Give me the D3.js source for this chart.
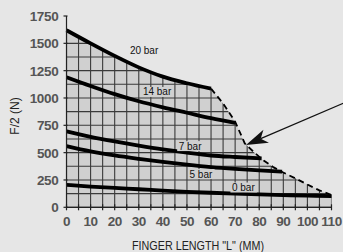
<!DOCTYPE html>
<html><head><meta charset="utf-8">
<script src="https://cdn.jsdelivr.net/npm/d3@7"></script>
<style>html,body{margin:0;padding:0;background:#e6e6e6;}svg{display:block;}</style>
</head><body>
<script>
// ---- data ----
const xTicks = [0,10,20,30,40,50,60,70,80,90,100,110];
const yTicks = [0,250,500,750,1000,1250,1500,1750];
const bar20X = [0,10,20,30,40,50,60];
const bar20Y = [1620,1500,1385,1280,1195,1135,1085];
const bar14X = [0,10,20,30,40,50,60,70];
const bar14Y = [1190,1110,1035,970,915,865,815,772];
const bar7X  = [0,10,20,30,40,50,60,70,81];
const bar7Y  = [695,645,603,565,530,500,474,460,448];
const bar5X  = [0,10,20,30,40,50,60,70,80,89.5];
const bar5Y  = [560,512,474,443,415,390,368,351,337,326];
const bar0X  = [0,10,20,30,40,50,60,70,80,90,100,110];
const bar0Y  = [205,190,177,165,153,142,133,125,118,112,107,103];
const limitX = [60,65,70,74,78,82,86,90,95,100,105,110];
const limitY = [1085,950,783,585,500,425,365,318,265,208,155,112];
const seriesNames = ["20 bar","14 bar","7 bar","5 bar","0 bar"];

// ---- layout ----
const W = 343, H = 252;
const m = {left:66.5, top:16, right:11.5, bottom:44.7};
const x = d3.scaleLinear().domain([0,110]).range([m.left, W-m.right]);
const y = d3.scaleLinear().domain([0,1750]).range([H-m.bottom, m.top]);

const svg = d3.select("body").append("svg").attr("width",W).attr("height",H);
svg.append("rect").attr("width",W).attr("height",H).attr("fill","#e6e6e6");

const zip = (xs,ys)=>xs.map((v,i)=>[v,ys[i]]);
const line = d3.line().x(d=>x(d[0])).y(d=>y(d[1])).curve(d3.curveMonotoneX);
const lineLin = d3.line().x(d=>x(d[0])).y(d=>y(d[1]));

// shaded region
const region = zip(bar20X,bar20Y).concat(zip(limitX,limitY).slice(1)).concat([[110,0],[0,0]]);
const regionPath = d3.line().x(d=>x(d[0])).y(d=>y(d[1]))(region) + "Z";
svg.append("clipPath").attr("id","clip").append("path").attr("d",regionPath);
svg.append("path").attr("d",regionPath).attr("fill","#d0d0d0");

// grid
const g = svg.append("g").attr("clip-path","url(#clip)").attr("stroke","#3a3a3a").attr("stroke-width",1.1);
g.selectAll("line.v").data(d3.range(0,111,5)).join("line")
  .attr("x1",d=>x(d)).attr("x2",d=>x(d)).attr("y1",y(0)).attr("y2",y(1750));
g.selectAll("line.h").data(d3.range(0,1751,125)).join("line")
  .attr("y1",d=>y(d)).attr("y2",d=>y(d)).attr("x1",x(0)).attr("x2",x(110));

// limit dashed curve
svg.append("path").attr("d",lineLin(zip(limitX,limitY))).attr("fill","none")
  .attr("stroke","#000").attr("stroke-width",1.8).attr("stroke-dasharray","6,4");

// curves
const series = [zip(bar20X,bar20Y),zip(bar14X,bar14Y),zip(bar7X,bar7Y),zip(bar5X,bar5Y),zip(bar0X,bar0Y)];
series.forEach(s=>{
  svg.append("path").attr("d",line(s)).attr("fill","none").attr("stroke","#000").attr("stroke-width",3.8);
});

// series labels
const labelPos = [[32.2,1430,false],[37.6,1055,true],[51.3,560,true],[55.8,304,true],[73.4,181,true]];
seriesNames.forEach((name,i)=>{
  const [lx,ly,box] = labelPos[i];
  const t = svg.append("text").attr("x",x(lx)).attr("y",y(ly)).attr("dy","0.35em")
    .attr("text-anchor","middle").attr("font-family","Liberation Sans, Arial, sans-serif")
    .attr("font-size",10).attr("fill","#111").text(name);
  if (box) {
    const b = t.node().getBBox();
    svg.insert("rect", function(){return t.node();})
      .attr("x",b.x-1.5).attr("y",b.y+0.5).attr("width",b.width+3).attr("height",b.height-1)
      .attr("fill","#d0d0d0");
  }
});

// axes
const axG = svg.append("g").attr("stroke","#222").attr("stroke-width",1.2);
axG.append("line").attr("x1",x(0)).attr("x2",x(0)).attr("y1",y(0)).attr("y2",y(1750));
axG.append("line").attr("x1",x(0)).attr("x2",x(110)).attr("y1",y(0)).attr("y2",y(0));
axG.selectAll("line.yt").data(yTicks).join("line")
  .attr("x1",x(0)-3).attr("x2",x(0)+1).attr("y1",d=>y(d)).attr("y2",d=>y(d));
axG.selectAll("line.xt").data(d3.range(0,111,5)).join("line")
  .attr("x1",d=>x(d)).attr("x2",d=>x(d)).attr("y1",y(0)-3).attr("y2",y(0)+3);

const tickFont = "Liberation Sans, Arial, sans-serif";
svg.selectAll("text.yl").data(yTicks).join("text")
  .attr("x",x(0)-8).attr("y",d=>y(d)).attr("dy","0.36em").attr("text-anchor","end")
  .attr("font-family",tickFont).attr("font-weight","bold").attr("font-size",13.5)
  .attr("letter-spacing",-0.3).attr("fill","#555").text(d=>d);
svg.selectAll("text.xl").data(xTicks).join("text")
  .attr("x",d=>x(d)).attr("y",y(0)+13.5).attr("dy","0.36em").attr("text-anchor","middle")
  .attr("font-family",tickFont).attr("font-weight","bold").attr("font-size",13.5)
  .attr("letter-spacing",-0.5).attr("fill","#555").text(d=>d);

svg.append("text").attr("x",198).attr("y",245).attr("dy","0.36em").attr("text-anchor","middle")
  .attr("font-family","Liberation Sans, Arial, sans-serif").attr("font-size",13)
  .attr("textLength",132).attr("lengthAdjust","spacingAndGlyphs")
  .attr("fill","#222").text('FINGER LENGTH "L" (MM)');
svg.append("text").attr("transform","translate(15,116) rotate(-90)").attr("dy","0.36em")
  .attr("text-anchor","middle").attr("font-family","Liberation Sans, Arial, sans-serif")
  .attr("font-size",12).attr("fill","#222").text("F/2 (N)");

// annotation arrow
const tip = [x(74.5), y(570)];
const tail = [346, 102];
const ang = Math.atan2(tail[1]-tip[1], tail[0]-tip[0]);
const L = 22, Wd = 7;
const bx = tip[0]+L*Math.cos(ang), by = tip[1]+L*Math.sin(ang);
const nx = tip[0]+(L-6)*Math.cos(ang), ny = tip[1]+(L-6)*Math.sin(ang);
const px = -Math.sin(ang), py = Math.cos(ang);
svg.append("line").attr("x1",tail[0]).attr("y1",tail[1]).attr("x2",nx).attr("y2",ny)
  .attr("stroke","#111").attr("stroke-width",1.2);
svg.append("path").attr("d",`M${tip[0]},${tip[1]}L${bx+px*Wd},${by+py*Wd}L${nx},${ny}L${bx-px*Wd},${by-py*Wd}Z`)
  .attr("fill","#111");
</script>
</body></html>
